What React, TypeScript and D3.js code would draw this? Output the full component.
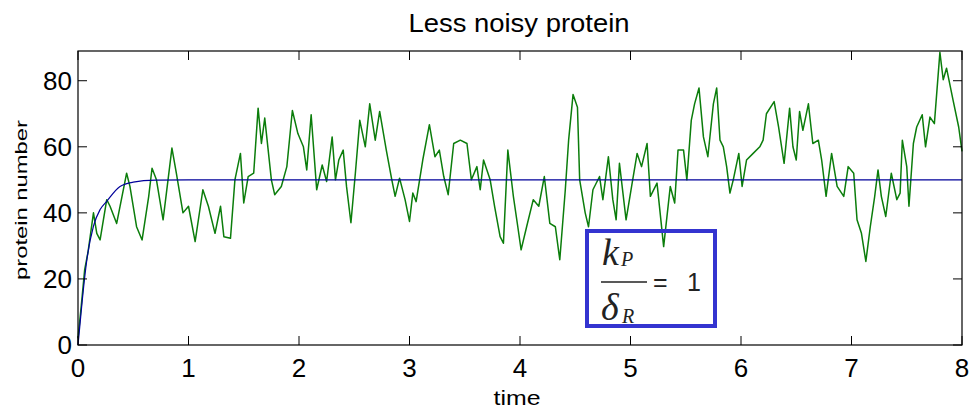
import React from "react";
import * as d3 from "d3";

// green trajectory (time, protein number)
const greenTime = [
  0, 0.03, 0.06, 0.09, 0.14, 0.17, 0.2, 0.26, 0.29, 0.35, 0.44, 0.47, 0.53, 0.58, 0.64, 0.67, 0.71, 0.77, 0.8, 0.85,
  0.89, 0.95, 1.0, 1.06, 1.13, 1.18, 1.24, 1.29, 1.32, 1.38, 1.42, 1.47, 1.5, 1.54, 1.59, 1.63, 1.66, 1.69, 1.75, 1.78,
  1.84, 1.89, 1.94, 1.99, 2.04, 2.07, 2.11, 2.16, 2.21, 2.25, 2.3, 2.33, 2.36, 2.4, 2.43, 2.47, 2.51, 2.55, 2.6, 2.64,
  2.69, 2.73, 2.79, 2.84, 2.87, 2.91, 2.96, 3.0, 3.03, 3.06, 3.12, 3.18, 3.23, 3.27, 3.31, 3.35, 3.4, 3.46, 3.52, 3.56,
  3.61, 3.64, 3.67, 3.73, 3.77, 3.82, 3.85, 3.89, 3.94, 3.98, 4.01, 4.06, 4.12, 4.17, 4.22, 4.27, 4.32, 4.36, 4.41, 4.44,
  4.48, 4.52, 4.54, 4.59, 4.62, 4.66, 4.72, 4.75, 4.8, 4.84, 4.87, 4.9, 4.96, 5.01, 5.06, 5.1, 5.15, 5.18, 5.24, 5.3,
  5.36, 5.4, 5.43, 5.48, 5.51, 5.55, 5.58, 5.62, 5.66, 5.7, 5.75, 5.78, 5.81, 5.84, 5.87, 5.9, 5.93, 5.98, 6.01, 6.05,
  6.11, 6.17, 6.2, 6.23, 6.3, 6.34, 6.39, 6.44, 6.47, 6.5, 6.53, 6.56, 6.61, 6.65, 6.7, 6.73, 6.77, 6.82, 6.87, 6.93,
  6.97, 7.02, 7.05, 7.09, 7.13, 7.17, 7.21, 7.24, 7.27, 7.31, 7.36, 7.41, 7.44, 7.46, 7.5, 7.52, 7.56, 7.59, 7.64, 7.67,
  7.71, 7.75, 7.8, 7.83, 7.86, 7.92, 7.97, 8.0,
];
const greenValue = [
  2, 12, 22.7, 28, 40, 33.8, 31.8, 44, 42, 36.8, 52, 48, 35.8, 31.8, 45, 53.5, 50, 37.9, 46, 59.6,
  52, 40, 42, 31.3, 47, 42, 33.8, 42, 32.8, 32.3, 50, 58, 43, 51, 52, 71.7, 61, 68.7, 50, 45.5,
  48, 54, 71, 64, 60, 53, 69.7, 47, 54.5, 49.5, 63, 50, 56, 59, 48, 37, 52, 68, 60, 73,
  62, 70.7, 59, 50, 45, 50.5, 44, 37.4, 46, 43.4, 56, 66.7, 57, 59, 51, 45.5, 61, 62, 61, 50,
  54, 47, 56, 50, 42, 32.8, 30.8, 59, 45, 35.8, 28.8, 35.8, 44, 42, 51, 36.8, 35.8, 25.8, 47, 62,
  75.8, 72, 50, 40, 35.8, 47, 51, 44, 57, 44, 37.9, 55, 37.9, 48, 58, 54, 61, 45, 49, 29.8,
  48, 43, 59, 59, 50, 68, 73, 77.8, 63, 57, 73, 77.8, 62, 60, 54, 46, 50, 58, 48, 56,
  58, 60, 62, 70, 73.7, 66, 55, 71.7, 60, 56, 70.7, 65, 73, 61, 62, 56, 45, 58, 48, 45,
  54, 52, 37.9, 33.8, 25.3, 35.8, 45, 53, 45, 38.9, 52, 44, 46, 62, 54, 42, 61, 66, 69.7, 60,
  69, 67, 88.6, 80.3, 83.8, 74, 66, 58.6,
];

// blue deterministic mean curve
const blueTime = [0, 0.02, 0.04, 0.08, 0.14, 0.2, 0.26, 0.38, 0.5, 0.7, 1, 8];
const blueValue = [0, 7, 14, 25.8, 36, 41, 43.5, 48, 49.3, 49.9, 50, 50];

const xTicks = [0, 1, 2, 3, 4, 5, 6, 7, 8];
const yTicks = [0, 20, 40, 60, 80];

const W = 972;
const H = 409;
const margin = { left: 78, top: 51, right: 10, bottom: 64 };
const innerW = W - margin.left - margin.right;
const innerH = H - margin.top - margin.bottom;
const SANS = "'Liberation Sans', Arial, Helvetica, sans-serif";
const SERIF = "'Liberation Serif', 'Times New Roman', serif";

export default function App() {
  const x = d3.scaleLinear().domain([0, 8]).range([0, innerW]);
  const y = d3.scaleLinear().domain([0, 89]).range([innerH, 0]);

  const green = greenTime.map((t, i) => [t, greenValue[i]] as [number, number]);
  const blue = blueTime.map((t, i) => [t, blueValue[i]] as [number, number]);

  const line = d3
    .line<[number, number]>()
    .x(d => x(d[0]))
    .y(d => y(d[1]));
  const smooth = d3
    .line<[number, number]>()
    .x(d => x(d[0]))
    .y(d => y(d[1]))
    .curve(d3.curveMonotoneX);

  const tickLen = 9;

  return (
    <svg width={W} height={H} style={{ position: "absolute", left: 0, top: 0, background: "#fff" }}>
      <rect width={W} height={H} fill="#fff" />
      <text x={519} y={32} textAnchor="middle" fontFamily={SANS} fontSize={25} textLength={221} lengthAdjust="spacingAndGlyphs">
        Less noisy protein
      </text>

      <g transform={`translate(${margin.left},${margin.top})`}>
        <path d={line(green) || ""} fill="none" stroke="#0b7d0b" strokeWidth={1.5} strokeLinejoin="round" />
        <path d={smooth(blue) || ""} fill="none" stroke="#00009a" strokeWidth={1.2} />

        {/* box */}
        <rect width={innerW} height={innerH} fill="none" stroke="#000" strokeWidth={1.2} />

        {/* x ticks */}
        {xTicks.map(t => (
          <g key={t} transform={`translate(${x(t)},0)`}>
            <line y1={innerH} y2={innerH - tickLen} stroke="#000" />
            <line y1={0} y2={tickLen} stroke="#000" />
            <text y={innerH + 32} textAnchor="middle" fontFamily={SANS} fontSize={26}>
              {t}
            </text>
          </g>
        ))}

        {/* y ticks */}
        {yTicks.map(t => (
          <g key={t} transform={`translate(0,${y(t)})`}>
            <line x1={0} x2={tickLen} stroke="#000" />
            <line x1={innerW} x2={innerW - tickLen} stroke="#000" />
            <text x={-6} y={9} textAnchor="end" fontFamily={SANS} fontSize={26}>
              {t}
            </text>
          </g>
        ))}
      </g>

      <text x={517} y={405} textAnchor="middle" fontFamily={SANS} fontSize={20} textLength={47} lengthAdjust="spacingAndGlyphs">
        time
      </text>
      <text
        transform="translate(27,200) rotate(-90)"
        textAnchor="middle"
        fontFamily={SANS}
        fontSize={17}
        textLength={160}
        lengthAdjust="spacingAndGlyphs"
      >
        protein number
      </text>

      {/* annotation box */}
      <rect x={587} y={231} width={128} height={95} fill="none" stroke="#3434d0" strokeWidth={4} />
      <g fill="#222">
        <text x={602} y={265} fontFamily={SERIF} fontStyle="italic" fontSize={38}>k</text>
        <text x={621} y={266} fontFamily={SERIF} fontStyle="italic" fontSize={20}>P</text>
        <line x1={601} x2={647} y1={282} y2={282} stroke="#222" strokeWidth={1.5} />
        <text x={601} y={320} fontFamily={SERIF} fontStyle="italic" fontSize={38}>δ</text>
        <text x={622} y={323} fontFamily={SERIF} fontStyle="italic" fontSize={20}>R</text>
        <text x={653} y={291} fontFamily={SANS} fontSize={25}>=</text>
        <text x={687} y={291} fontFamily={SANS} fontSize={25}>1</text>
      </g>
    </svg>
  );
}
